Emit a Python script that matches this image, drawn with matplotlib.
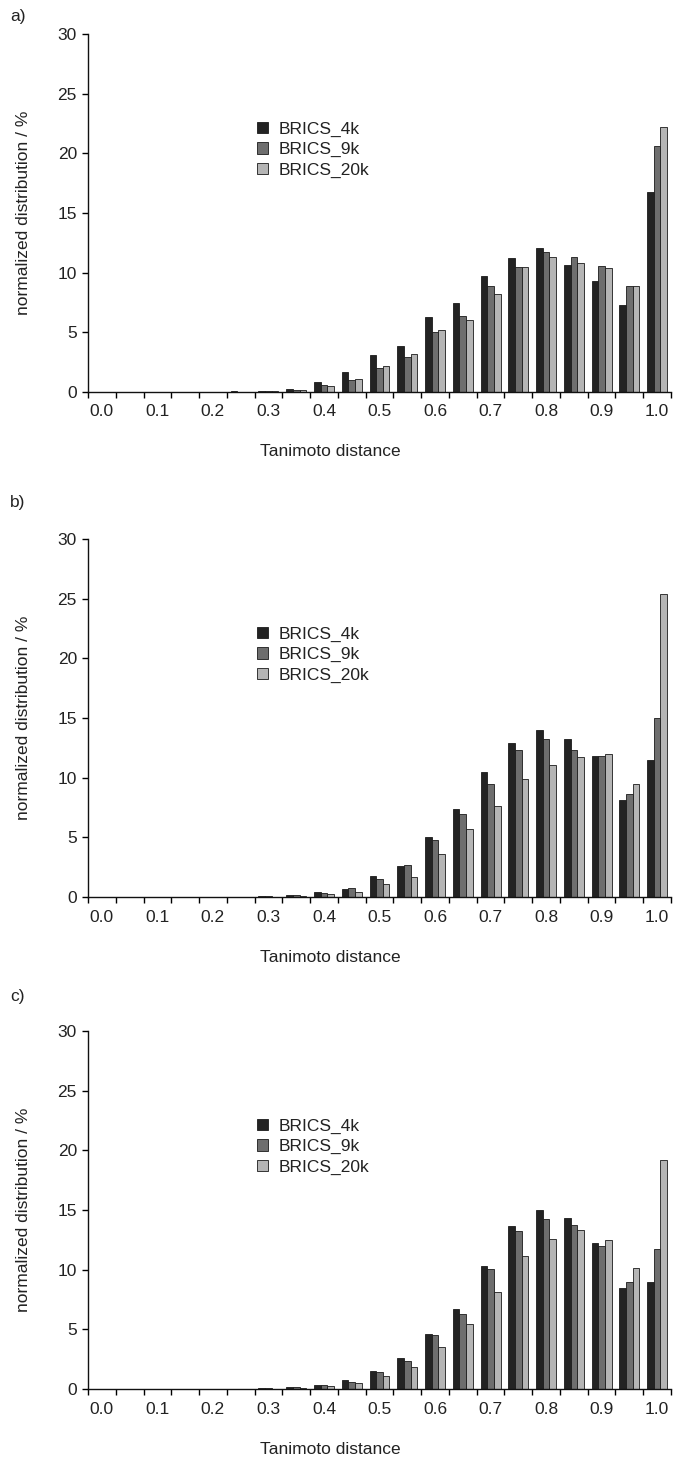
import numpy as np
import matplotlib
matplotlib.use("Agg")
import matplotlib.pyplot as plt

plt.rcParams['font.family'] = ['Liberation Sans', 'DejaVu Sans']

# category axis: Tanimoto distance bins 0.00, 0.05, ... 1.00
bin_count = 21
tick_labels = ['0.0', '0.1', '0.2', '0.3', '0.4', '0.5', '0.6', '0.7', '0.8', '0.9', '1.0']
series_names = ['BRICS_4k', 'BRICS_9k', 'BRICS_20k']
panel_letters = ['a)', 'b)', 'c)']

a_4k = [0, 0, 0, 0, 0.01, 0.05, 0.10, 0.27, 0.81, 1.65, 3.10, 3.85, 6.31, 7.46, 9.75, 11.26, 12.10, 10.61, 9.30, 7.32, 16.80]
a_9k = [0, 0, 0, 0, 0.01, 0.03, 0.08, 0.15, 0.56, 1.03, 2.00, 2.96, 5.03, 6.37, 8.91, 10.45, 11.70, 11.34, 10.56, 8.88, 20.60]
a_20k = [0, 0, 0, 0, 0.01, 0.03, 0.08, 0.15, 0.47, 1.05, 2.20, 3.16, 5.17, 6.06, 8.24, 10.45, 11.28, 10.81, 10.36, 8.91, 22.20]

b_4k = [0, 0, 0, 0, 0.01, 0.02, 0.07, 0.17, 0.42, 0.68, 1.72, 2.62, 5.01, 7.41, 10.45, 12.87, 13.98, 13.20, 11.78, 8.13, 11.48]
b_9k = [0, 0, 0, 0, 0.01, 0.02, 0.06, 0.14, 0.36, 0.75, 1.55, 2.65, 4.76, 6.99, 9.44, 12.31, 13.20, 12.34, 11.78, 8.64, 14.96]
b_20k = [0, 0, 0, 0, 0.00, 0.01, 0.04, 0.08, 0.22, 0.38, 1.08, 1.70, 3.57, 5.71, 7.63, 9.92, 11.03, 11.73, 12.00, 9.47, 25.40]

c_4k = [0, 0, 0, 0, 0.01, 0.02, 0.06, 0.19, 0.36, 0.77, 1.52, 2.57, 4.64, 6.74, 10.28, 13.70, 15.00, 14.36, 12.24, 8.48, 8.95]
c_9k = [0, 0, 0, 0, 0.01, 0.02, 0.05, 0.14, 0.30, 0.61, 1.44, 2.38, 4.50, 6.27, 10.03, 13.20, 14.25, 13.78, 12.02, 8.95, 11.77]
c_20k = [0, 0, 0, 0, 0.00, 0.01, 0.04, 0.11, 0.25, 0.47, 1.08, 1.88, 3.48, 5.44, 8.15, 11.16, 12.57, 13.34, 12.51, 10.14, 19.20]

panels = [(a_4k, a_9k, a_20k), (b_4k, b_9k, b_20k), (c_4k, c_9k, c_20k)]
colors = ['#232323', '#6e6e6e', '#b5b5b5']

W, H = 675, 1457
fig = plt.figure(figsize=(W / 100, H / 100), dpi=100)

# pixel layout (baseline y of each panel, measured from top)
baselines = [392, 897, 1389]
letter_y = [16, 502, 997]
ax_left, ax_right = 88, 671
ax_h = 358
text_col = '#222222'
fs = 12.5

x = np.arange(bin_count)
bw = 0.24

for i, (s4, s9, s20) in enumerate(panels):
    base = baselines[i]
    ax = fig.add_axes([ax_left / W, (H - base) / H, (ax_right - ax_left) / W, ax_h / H])
    for j, vals in enumerate((s4, s9, s20)):
        ax.bar(x + (j - 1) * bw, vals, width=bw, color=colors[j],
               edgecolor='#1a1a1a', linewidth=0.6, label=series_names[j])

    ax.set_xlim(-0.5, bin_count - 0.5)
    ax.set_ylim(0, 30)
    ax.set_yticks(range(0, 31, 5))
    ax.set_xticks(range(0, bin_count, 2))
    ax.set_xticklabels(tick_labels)
    ax.set_xticks(np.arange(-0.5, bin_count, 1), minor=True)
    ax.tick_params(axis='x', which='major', length=0, pad=9, labelsize=fs, labelcolor=text_col)
    ax.tick_params(axis='x', which='minor', length=4, width=1, direction='out')
    ax.tick_params(axis='y', length=4, width=1, direction='out', pad=4, labelsize=fs, labelcolor=text_col)
    for side in ('top', 'right'):
        ax.spines[side].set_visible(False)
    for side in ('left', 'bottom'):
        ax.spines[side].set_linewidth(1.0)
        ax.spines[side].set_color('#111111')

    leg = ax.legend(loc='upper left', bbox_to_anchor=(0.29, 0.755), frameon=False,
                    fontsize=fs, handlelength=0.62, handleheight=0.62,
                    handletextpad=0.6, labelspacing=0.3, borderpad=0, borderaxespad=0)
    for t in leg.get_texts():
        t.set_color(text_col)

    mid_y = base - ax_h / 2
    fig.text(24 / W, 1 - mid_y / H, 'normalized distribution / %', rotation=90,
             ha='center', va='center', fontsize=fs, color=text_col)
    fig.text(330 / W, 1 - (base + 60) / H, 'Tanimoto distance',
             ha='center', va='center', fontsize=fs, color=text_col)
    fig.text(10 / W, 1 - letter_y[i] / H, panel_letters[i],
             ha='left', va='center', fontsize=fs, color=text_col)

fig.savefig('out.png', dpi=100)
